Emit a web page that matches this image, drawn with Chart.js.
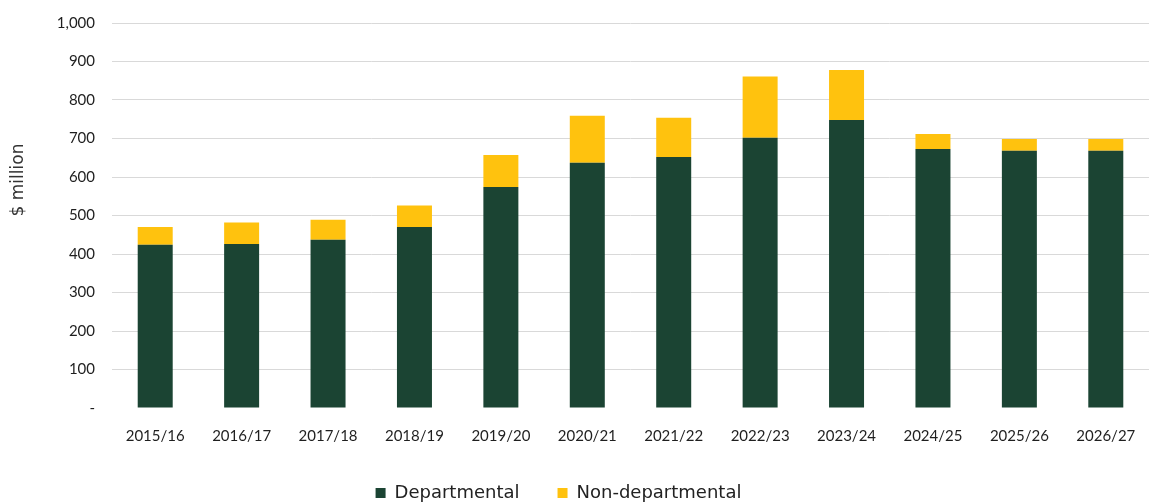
<!DOCTYPE html>
<html>
<head>
<meta charset="utf-8">
<script src="https://cdn.jsdelivr.net/npm/chart.js@4.4.1/dist/chart.umd.min.js"></script>
<style>
    html, body { margin: 0; padding: 0; background: #fff; overflow: hidden; }
    #wrap { width: 1149px; height: 503px; overflow: hidden; }
</style>
</head>
<body>
<div id="wrap"><canvas id="spendChart" width="1149" height="512"></canvas></div>
<script>
// Departmental vs non-departmental spend, $ million

const years = ["2015/16", "2016/17", "2017/18", "2018/19", "2019/20", "2020/21",
               "2021/22", "2022/23", "2023/24", "2024/25", "2025/26", "2026/27"];
const departmental    = [424, 426, 437, 470, 574, 637, 652, 702, 748, 673, 668, 668];
const nonDepartmental = [ 46,  56,  52,  56,  83, 122, 102, 159, 130,  39,  31,  31];
const yTickLabels = ["-", "100", "200", "300", "400", "500", "600", "700", "800", "900", "1,000"];
const yTitle = "$ million";

const DARK = "#1b4433";
const GOLD = "#ffc20e";

// y-axis title sits a bit above the middle of the axis, so draw it by hand
const yTitlePlugin = {
    id: "yTitle",
    afterLayout: function (chart) {
        // legend in the original sits a little left of centre
        chart.legend.left -= 16;
        chart.legend.right -= 16;
    },
    afterDraw: function (chart) {
        const c = chart.ctx;
        c.save();
        c.translate(19, 180);
        c.rotate(-Math.PI / 2);
        c.font = "17px 'DejaVu Sans', sans-serif";
        c.fillStyle = "#333";
        c.textAlign = "center";
        c.textBaseline = "middle";
        c.fillText(yTitle, 0, 0);
        c.restore();
    }
};

new Chart(document.getElementById("spendChart"), {
    type: "bar",
    data: {
        labels: years,
        datasets: [
            { label: "Departmental", data: departmental, backgroundColor: DARK, borderWidth: 0 },
            { label: "Non-departmental", data: nonDepartmental, backgroundColor: GOLD, borderWidth: 0 }
        ]
    },
    options: {
        responsive: false,
        animation: false,
        barPercentage: 0.405,
        categoryPercentage: 1,
        layout: { autoPadding: false, padding: { top: 23, right: 0, bottom: 0, left: 0 } },
        plugins: {
            tooltip: { enabled: false },
            legend: {
                position: "bottom",
                labels: {
                    boxWidth: 10,
                    boxHeight: 10,
                    padding: 38,
                    color: "#222",
                    font: { family: "'DejaVu Sans', sans-serif", size: 18 }
                }
            }
        },
        scales: {
            x: {
                stacked: true,
                grid: { display: false, drawTicks: false },
                border: { display: false },
                ticks: {
                    color: "#1f1f1f",
                    padding: 19,
                    maxRotation: 0,
                    font: { family: "Lato, sans-serif", size: 15 }
                },
                afterFit: function (s) {
                    s.height = 38;
                    s.paddingLeft = 0; s.paddingRight = 0;
                }
            },
            y: {
                stacked: true,
                min: 0,
                max: 1000,
                border: { display: false },
                grid: {
                    drawTicks: false,
                    lineWidth: 1,
                    color: function (c) { return c.tick && c.tick.value === 0 ? "rgba(0,0,0,0)" : "#d9d9d9"; }
                },
                ticks: {
                    stepSize: 100,
                    padding: 17,
                    color: "#1f1f1f",
                    font: { family: "Lato, sans-serif", size: 15 },
                    callback: function (v, i) { return yTickLabels[i]; }
                },
                afterFit: function (s) {
                    s.width = 112;
                    s.paddingTop = 0; s.paddingBottom = 0;
                }
            }
        }
    },
    plugins: [yTitlePlugin]
});
</script>
</body>
</html>
